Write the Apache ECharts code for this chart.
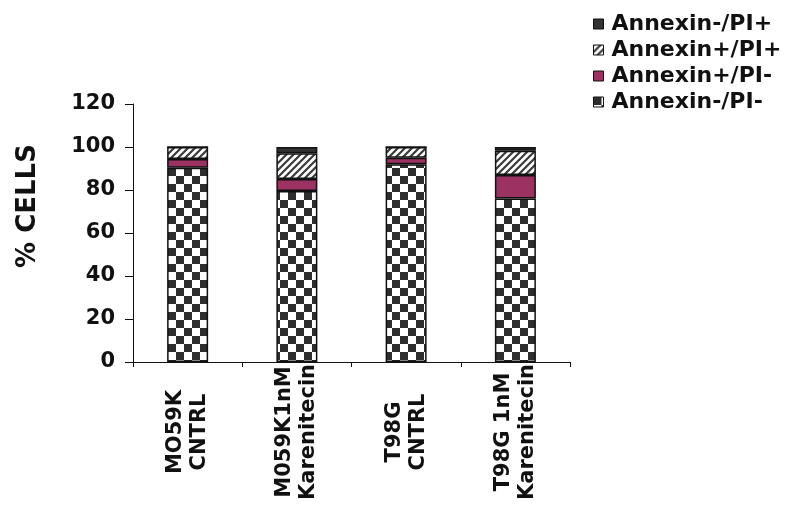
<!DOCTYPE html>
<html><head><meta charset="utf-8">
<script src="https://cdn.jsdelivr.net/npm/echarts@6/dist/echarts.min.js"></script>
<style>html,body{margin:0;padding:0;background:#fff}#c{width:785px;height:508px}</style>
</head><body><div id="c"></div>
<script>
var categories = ['MO59K\nCNTRL', 'M059K1nM\nKarenitecin', 'T98G\nCNTRL', 'T98G 1nM\nKarenitecin'];
var annexNegPINeg = [90.4, 79.5, 92, 76];
var annexPosPINeg = [4, 5.6, 3, 11];
var annexPosPIPos = [5.6, 12, 5, 11.3];
var annexNegPIPos = [0, 2.9, 0, 1.7];
var yTicks = [0, 20, 40, 60, 80, 100, 120];

function makeChecker() {
  var c = document.createElement('canvas'); c.width = 16; c.height = 16;
  var g = c.getContext('2d');
  g.fillStyle = '#fff'; g.fillRect(0, 0, 16, 16);
  g.fillStyle = '#2e2e2e'; g.fillRect(0, 0, 8, 8); g.fillRect(8, 8, 8, 8);
  return c;
}
function makeHatch() {
  var s = 7;
  var c = document.createElement('canvas'); c.width = s; c.height = s;
  var g = c.getContext('2d');
  g.fillStyle = '#fff'; g.fillRect(0, 0, s, s);
  g.strokeStyle = '#3a3a3a'; g.lineWidth = 2.2;
  g.beginPath();
  g.moveTo(-1, s + 1); g.lineTo(s + 1, -1);
  g.moveTo(-1, 1); g.lineTo(1, -1);
  g.moveTo(s - 1, s + 1); g.lineTo(s + 1, s - 1);
  g.stroke();
  return c;
}
var checker = {image: makeChecker(), repeat: 'repeat'};
var hatch = {image: makeHatch(), repeat: 'repeat'};
var FONT = '"DejaVu Sans", Arial, sans-serif';
var border = {borderColor: '#111', borderWidth: 1.5};

var chart = echarts.init(document.getElementById('c'));
chart.setOption({
  animation: false,
  backgroundColor: '#fff',
  grid: {left: 133, right: 215, top: 104, bottom: 146},
  legend: {
    orient: 'vertical', left: 588, top: 8,
    icon: 'rect',
    itemWidth: 10, itemHeight: 10, itemGap: 4,
    data: ['Annexin-/PI+', 'Annexin+/PI+', 'Annexin+/PI-', 'Annexin-/PI-'],
    textStyle: {fontFamily: FONT, fontWeight: 'bold', fontSize: 22, color: '#111', lineHeight: 22, padding: [0, 0, 0, 3]},
    itemStyle: {borderWidth: 1, borderColor: '#111'}
  },
  graphic: [{
    type: 'text', x: 28, y: 206, rotation: Math.PI / 2,
    style: {text: '% CELLS', font: 'bold 26px ' + FONT, fill: '#111', textAlign: 'center', textVerticalAlign: 'middle'}
  }],
  xAxis: {
    type: 'category', data: categories,
    axisLine: {lineStyle: {color: '#111', width: 1}},
    axisTick: {show: true, length: 5, lineStyle: {color: '#111'}},
    axisLabel: {interval: 0, rotate: 90, align: 'center', margin: 70, fontFamily: FONT, fontWeight: 'bold', fontSize: 21, lineHeight: 24, color: '#111'}
  },
  yAxis: {
    type: 'value', min: yTicks[0], max: yTicks[yTicks.length - 1], interval: 20,
    splitLine: {show: false},
    axisLine: {show: true, lineStyle: {color: '#111', width: 1}},
    axisTick: {show: true, length: 8, lineStyle: {color: '#111'}},
    axisLabel: {margin: 18, fontFamily: FONT, fontWeight: 'bold', fontSize: 21, color: '#111'}
  },
  series: [
    {name: 'Annexin-/PI-', type: 'bar', stack: 's', barWidth: 41, data: annexNegPINeg, itemStyle: Object.assign({color: checker}, border)},
    {name: 'Annexin+/PI-', type: 'bar', stack: 's', barWidth: 41, data: annexPosPINeg, itemStyle: Object.assign({color: '#9b3262'}, border)},
    {name: 'Annexin+/PI+', type: 'bar', stack: 's', barWidth: 41, data: annexPosPIPos, itemStyle: Object.assign({color: hatch}, border)},
    {name: 'Annexin-/PI+', type: 'bar', stack: 's', barWidth: 41, data: annexNegPIPos, itemStyle: Object.assign({color: '#333'}, border)}
  ]
});
</script></body></html>
